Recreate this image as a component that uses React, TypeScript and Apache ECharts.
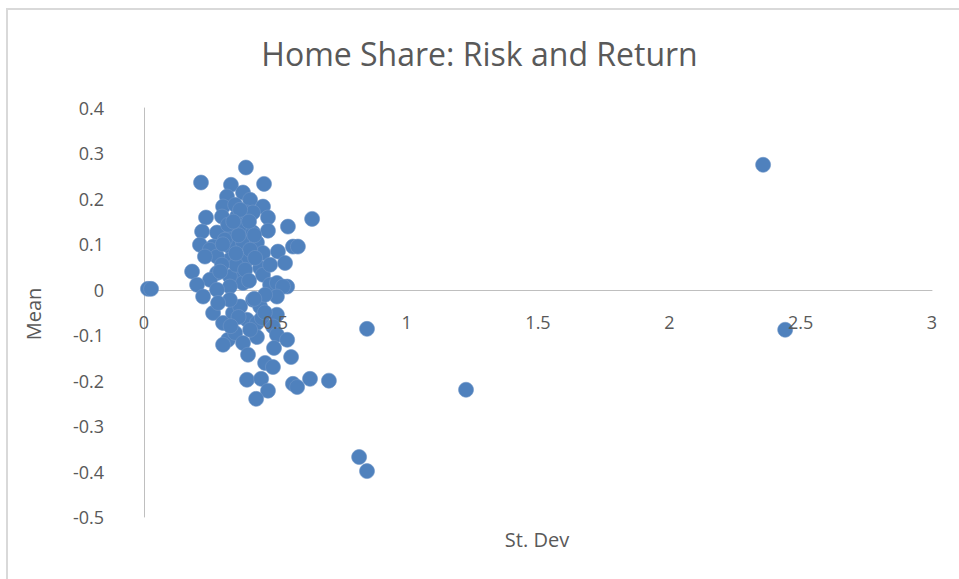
import React, { useEffect, useRef } from "react";
import * as echarts from "echarts";

const stdDev: number[] = [
  0.388, 0.217, 0.331, 0.457, 0.316, 0.377, 0.404, 0.301, 0.453, 0.297,
  0.354, 0.392, 0.415, 0.472, 0.236, 0.640, 0.548, 0.377, 0.415, 0.327,
  0.278, 0.221, 0.472, 0.263, 0.327, 0.377, 0.430, 0.213, 0.567, 0.586,
  0.510, 0.453, 0.251, 0.392, 0.327, 0.278, 0.232, 0.537, 0.442, 0.183,
  0.453, 0.366, 0.327, 0.278, 0.251, 0.202, 0.480, 0.506, 0.545, 0.529,
  0.377, 0.327, 0.278, 0.015, 0.027,
  0.347, 0.366, 0.320, 0.404, 0.350, 0.297, 0.423, 0.385, 0.308, 0.480,
  0.225, 0.263, 0.301, 0.339, 0.366, 0.415, 0.442, 0.392, 0.430, 0.506,
  0.506, 0.491, 0.320, 0.301, 0.347, 0.377, 0.396, 0.430, 0.506, 0.545,
  0.495, 0.560, 0.461, 0.491, 0.392, 0.446, 0.472, 0.427, 0.567, 0.583,
  0.632, 0.704, 0.849, 0.819, 0.849, 1.226, 2.357, 2.441,
  0.327, 0.461, 0.404, 0.282, 0.449,
  0.360, 0.340, 0.400, 0.300, 0.350, 0.420, 0.290, 0.400, 0.360, 0.330,
  0.460, 0.420,
];

const meanValues: number[] = [
  0.269, 0.236, 0.231, 0.233, 0.205, 0.214, 0.198, 0.183, 0.183, 0.161,
  0.161, 0.170, 0.170, 0.159, 0.159, 0.156, 0.139, 0.139, 0.126, 0.126,
  0.126, 0.128, 0.130, 0.095, 0.095, 0.104, 0.104, 0.099, 0.095, 0.095,
  0.084, 0.081, 0.088, 0.066, 0.066, 0.073, 0.073, 0.059, 0.048, 0.040,
  0.033, 0.026, 0.029, 0.037, 0.022, 0.011, 0.011, 0.015, 0.007, 0.007,
  0.015, 0.007, 0.000, 0.002, 0.002,
  0.187, 0.176, 0.143, 0.088, 0.055, 0.055, 0.070, 0.044, 0.110, 0.055,
  -0.015, -0.051, -0.073, -0.051, -0.037, -0.022, -0.037, -0.066, -0.073, -0.015,
  -0.055, -0.081, -0.110, -0.121, -0.095, -0.117, -0.143, -0.104, -0.099, -0.110,
  -0.128, -0.148, -0.161, -0.170, -0.198, -0.196, -0.222, -0.240, -0.207, -0.214,
  -0.196, -0.200, -0.086, -0.368, -0.399, -0.220, 0.275, -0.088,
  -0.022, -0.011, -0.088, -0.029, -0.062,
  0.120, 0.150, 0.150, 0.100, 0.080, 0.120, 0.040, 0.020, -0.060, -0.080,
  -0.050, -0.020,
];

const xTickValues: number[] = [0, 0.5, 1, 1.5, 2, 2.5, 3];
const xTickLabels: string[] = ["0", "0.5", "1", "1.5", "2", "2.5", "3"];

const chartTitle = "Home Share: Risk and Return";
const xAxisTitle = "St. Dev";
const yAxisTitle = "Mean";

const FONT = "'Open Sans', 'Liberation Sans', sans-serif";
const GREY = "#595959";

export default function App() {
  const ref = useRef<HTMLDivElement>(null);

  useEffect(() => {
    if (!ref.current) return;
    const chart = echarts.init(ref.current, undefined, { renderer: "svg" });
    const points = stdDev.map((x, i) => [x, meanValues[i]]);
    const baseGraphics: any[] = [
      {
        type: "rect",
        shape: { x: 7, y: 9, width: 1000, height: 1000 },
        style: { fill: "none", stroke: "#D9D9D9", lineWidth: 2 },
        silent: true,
      },
      {
        type: "text",
        x: 537,
        y: 539,
        style: {
          text: xAxisTitle,
          fontFamily: FONT,
          fontSize: 20,
          fill: GREY,
          align: "center",
          verticalAlign: "middle",
        },
      },
      {
        type: "text",
        x: 33,
        y: 314,
        rotation: Math.PI / 2,
        style: {
          text: yAxisTitle,
          fontFamily: FONT,
          fontSize: 20,
          fill: GREY,
          align: "center",
          verticalAlign: "middle",
        },
      },
    ];
    chart.setOption({
      animation: false,
      backgroundColor: "#ffffff",
      title: {
        text: chartTitle,
        left: "center",
        top: 32,
        textStyle: { fontFamily: FONT, fontSize: 32, fontWeight: "normal", color: GREY },
      },
      grid: { left: 144, right: 27, top: 108, bottom: 62, containLabel: false },
      xAxis: {
        type: "value",
        min: 0,
        max: 3,
        interval: 0.5,
        axisLine: { show: true, onZero: true, lineStyle: { color: "#BFBFBF", width: 1 } },
        axisTick: { show: false },
        splitLine: { show: false },
        axisLabel: { show: false },
      },
      yAxis: {
        type: "value",
        min: -0.5,
        max: 0.4,
        interval: 0.1,
        axisLine: { show: true, onZero: false, lineStyle: { color: "#BFBFBF", width: 1 } },
        axisTick: { show: false },
        splitLine: { show: false },
        axisLabel: {
          fontFamily: FONT,
          fontSize: 18,
          color: GREY,
          margin: 40,
          formatter: (v: number) => String(Math.round(v * 10) / 10),
        },
      },
      graphic: baseGraphics,
      series: [
        {
          type: "scatter",
          data: points,
          symbol: "circle",
          symbolSize: 15,
          z: 2,
          itemStyle: { color: "#4F81BD", borderColor: "#6E95C8", borderWidth: 0.6, opacity: 1 },
        },
      ],
    });
    const tickGraphics = xTickValues.map((v, i) => {
      const p = chart.convertToPixel({ gridIndex: 0 }, [v, 0]) as number[];
      return {
        type: "text",
        x: p[0],
        y: p[1] + 32,
        z: 100,
        zlevel: 0,
        style: {
          text: xTickLabels[i],
          fontFamily: FONT,
          fontSize: 18,
          fill: GREY,
          align: "center",
          verticalAlign: "middle",
        },
      };
    });
    chart.setOption({ graphic: [...baseGraphics, ...tickGraphics] });
    return () => chart.dispose();
  }, []);

  return (
    <div
      ref={ref}
      style={{ position: "fixed", left: 0, top: 0, width: 959, height: 579 }}
    />
  );
}
